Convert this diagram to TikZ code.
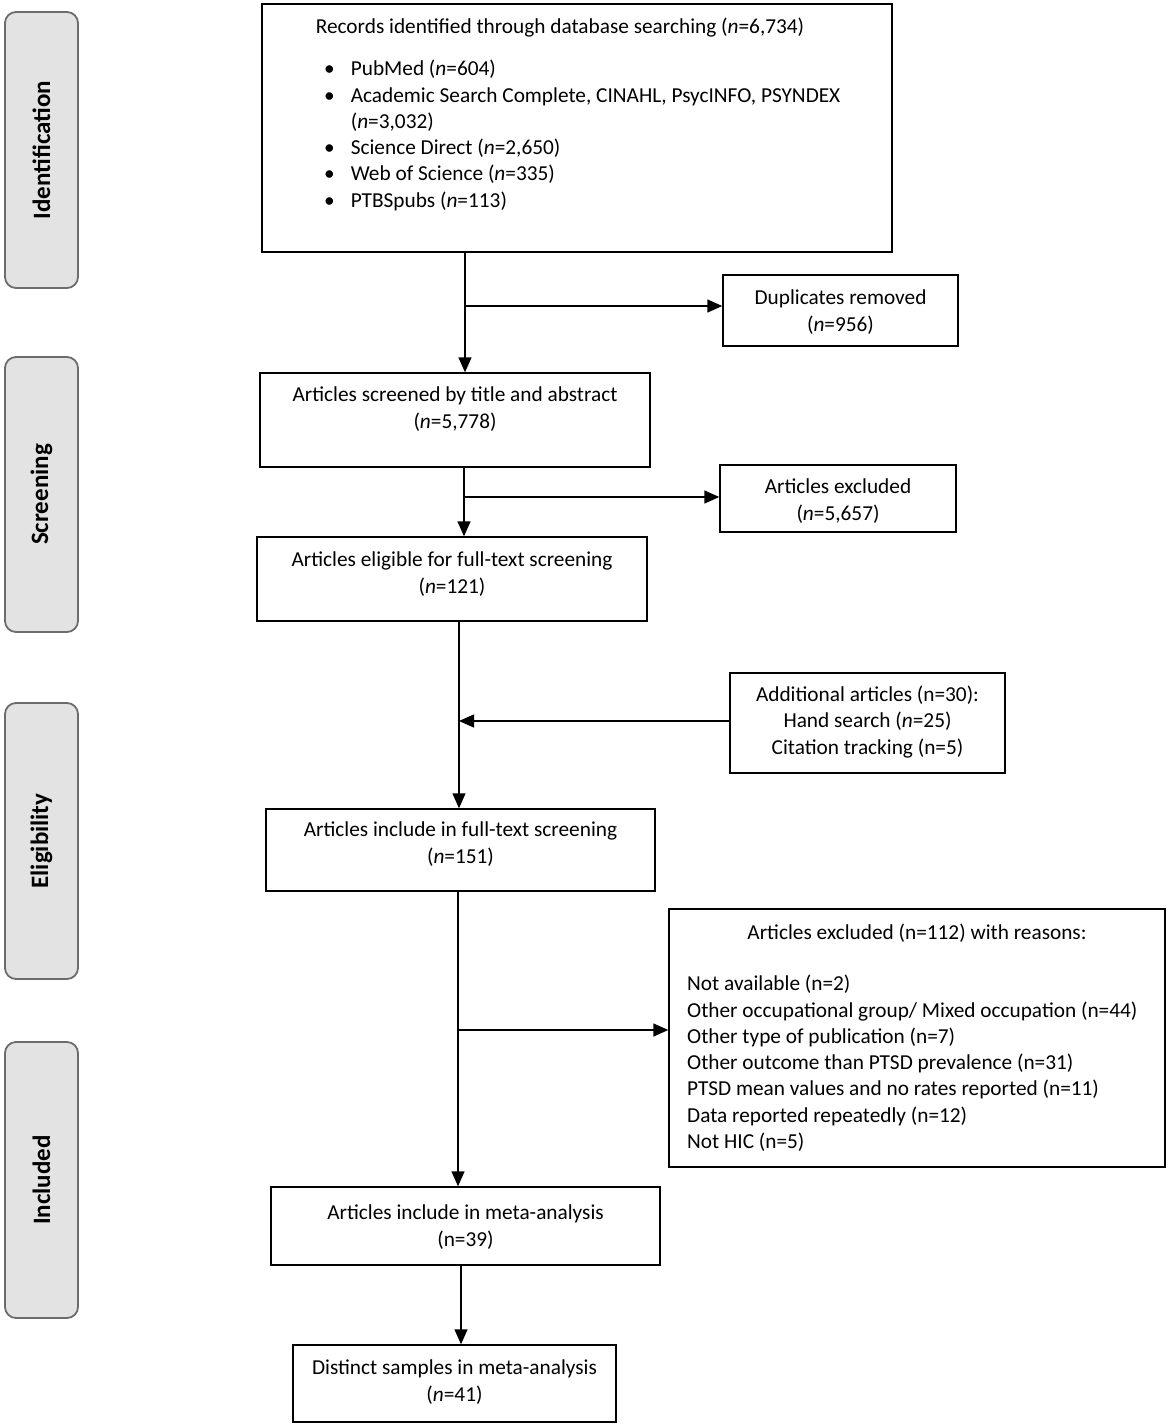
\documentclass[tikz,border=0pt]{standalone}
\usepackage{fontspec}
\setmainfont{Carlito}
\usetikzlibrary{arrows.meta}
\begin{document}
\begin{tikzpicture}[x=1pt,y=-1pt,
  box/.style={draw=black,line width=1.4pt,inner sep=0pt},
  phase/.style={draw=gray!85!black,fill=gray!22,line width=1.8pt,rounded corners=11pt,inner sep=0pt,minimum width=73pt},
  phasetxt/.style={rotate=90,font=\fontsize{25}{29}\selectfont\bfseries},
  txt/.style={font=\fontsize{21.3}{26.6}\selectfont,align=center,inner sep=0pt},
  ltxt/.style={font=\fontsize{21.3}{26.3}\selectfont,align=left,inner sep=0pt},
  conn/.style={line width=1.4pt},
  arr/.style={line width=1.4pt,-{Triangle[length=15pt,width=13pt]}}]
\useasboundingbox (0,0) rectangle (1170,1427);
% phase labels
\node[phase,minimum height=276pt] (pid) at (41.5,150) {};
\node[phasetxt] (lid) at (pid.center) {Identification};
\node[phase,minimum height=275pt] (psc) at (41.5,494.5) {};
\node[phasetxt] (lsc) at (psc.center) {Screening};
\node[phase,minimum height=276pt] (pel) at (41.5,841) {};
\node[phasetxt] (lel) at (pel.center) {Eligibility};
\node[phase,minimum height=276pt] (pin) at (41.5,1180) {};
\node[phasetxt] (lin) at (pin.center) {Included};
% boxes
\node[box,minimum width=630pt,minimum height=248pt] (rec) at (577,128) {};
\node[txt] (rech) at (560,28) {Records identified through database searching (\textit{n}=6,734)};
\node[ltxt,anchor=north west] (recl) at (324,60) {%
\textbullet\hspace{16pt}PubMed (\textit{n}=604)\\
\textbullet\hspace{16pt}Academic Search Complete, CINAHL, PsycINFO, PSYNDEX\\
\hphantom{\textbullet}\hspace{16pt}(\textit{n}=3,032)\\
\textbullet\hspace{16pt}Science Direct (\textit{n}=2,650)\\
\textbullet\hspace{16pt}Web of Science (\textit{n}=335)\\
\textbullet\hspace{16pt}PTBSpubs (\textit{n}=113)};
\node[box,minimum width=235pt,minimum height=71pt] (dup) at (840.5,310.5) {};
\node[txt] (tdup) at (840.5,312) {Duplicates removed\\(\textit{n}=956)};
\node[box,minimum width=390pt,minimum height=94pt] (scr) at (455,420) {};
\node[txt] (tscr) at (455,409) {Articles screened by title and abstract\\(\textit{n}=5,778)};
\node[box,minimum width=236pt,minimum height=67pt] (ex1) at (838,498.5) {};
\node[txt] (tex1) at (838,501) {Articles excluded\\(\textit{n}=5,657)};
\node[box,minimum width=390pt,minimum height=84pt] (eli) at (452,579) {};
\node[txt] (teli) at (452,574) {Articles eligible for full-text screening\\(\textit{n}=121)};
\node[box,minimum width=275pt,minimum height=100pt] (add) at (867.5,723) {};
\node[txt] (tadd) at (867.5,722) {Additional articles (n=30):\\Hand search (\textit{n}=25)\\Citation tracking (n=5)};
\node[box,minimum width=389pt,minimum height=82pt] (inc) at (460.5,850) {};
\node[txt] (tinc) at (460.5,844) {Articles include in full-text screening\\(\textit{n}=151)};
\node[box,minimum width=496pt,minimum height=258pt] (ex2) at (917,1038) {};
\node[txt] (tex2h) at (917,933) {Articles excluded (n=112) with reasons:};
\node[ltxt,anchor=north west] (tex2l) at (687,975) {%
Not available (n=2)\\
Other occupational group/ Mixed occupation (n=44)\\
Other type of publication (n=7)\\
Other outcome than PTSD prevalence (n=31)\\
PTSD mean values and no rates reported (n=11)\\
Data reported repeatedly (n=12)\\
Not HIC (n=5)};
\node[box,minimum width=389pt,minimum height=78pt] (met) at (465.5,1226) {};
\node[txt] (tmet) at (465.5,1227) {Articles include in meta-analysis\\(n=39)};
\node[box,minimum width=323pt,minimum height=77pt] (dis) at (454.5,1383.5) {};
\node[txt] (tdis) at (454.5,1382) {Distinct samples in meta-analysis\\(\textit{n}=41)};
% connectors
\coordinate (j1) at (465,306);
\coordinate (j2) at (464,497);
\coordinate (j3) at (459,721);
\coordinate (j4) at (458,1030);
\draw[arr] (rec.south -| j1) -- (scr.north -| j1);
\draw[arr] (j1) -- (dup.west |- j1);
\draw[arr] (scr.south -| j2) -- (eli.north -| j2);
\draw[arr] (j2) -- (ex1.west |- j2);
\draw[arr] (eli.south -| j3) -- (inc.north -| j3);
\draw[arr] (add.west |- j3) -- (j3);
\draw[arr] (inc.south -| j4) -- (met.north -| j4);
\draw[arr] (j4) -- (ex2.west |- j4);
\draw[arr] (met.south -| 461,0) -- (dis.north -| 461,0);
\end{tikzpicture}
\end{document}
